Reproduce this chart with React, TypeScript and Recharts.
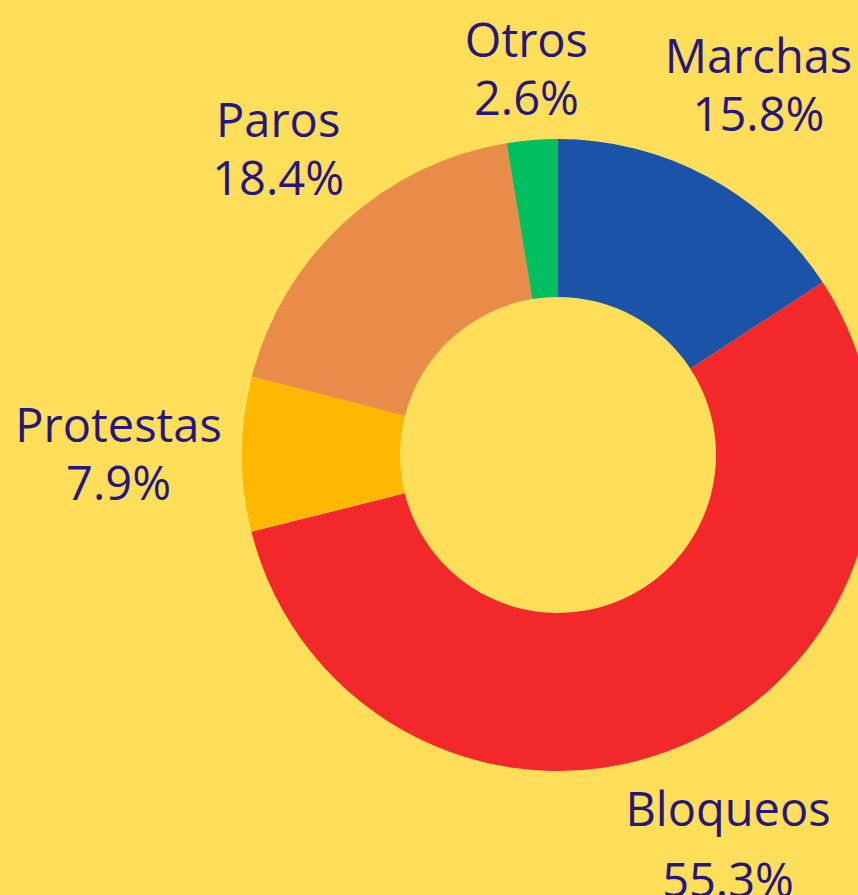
import React from "react";
import { PieChart, Pie, Cell } from "recharts";

const categories = ["Marchas", "Bloqueos", "Protestas", "Paros", "Otros"];
const values = [15.8, 55.3, 7.9, 18.4, 2.6];
const colors = ["#1B53A8", "#F2282B", "#FFB800", "#E98C4A", "#00BF60"];

const data = categories.map((name, i) => ({ name, value: values[i] }));

const TEXT = "#26167F";
const RAD = Math.PI / 180;
const FONT_SIZE = 47;
const FONT_FAMILY = "'Open Sans', sans-serif";
const CAP = FONT_SIZE * 0.72;

let ctx: CanvasRenderingContext2D | null = null;
const measure = (t: string) => {
  if (!ctx) {
    const c = document.createElement("canvas");
    ctx = c.getContext("2d");
  }
  if (!ctx) return t.length * FONT_SIZE * 0.55;
  ctx.font = `${FONT_SIZE}px ${FONT_FAMILY}`;
  return ctx.measureText(t).width;
};

const renderLabel = (props: any) => {
  const { cx, cy, midAngle, outerRadius, index } = props;
  const theta = (90 - midAngle) * RAD; // clockwise from top
  const s = Math.sin(theta);
  const c = Math.cos(theta);
  const l1 = categories[index];
  const l2 = values[index].toFixed(1) + "%";
  const hw = Math.max(measure(l1), measure(l2)) / 2;
  const gap = c < -0.5 ? 71 : 58;
  const hh = (CAP + gap) / 2;
  const d = outerRadius + 20 + Math.abs(s) * hw + Math.abs(c) * hh;
  const x = cx + d * s;
  const y = cy - d * c;
  const base1 = y - hh + CAP;
  return (
    <text
      key={`lbl-${index}`}
      textAnchor="middle"
      fill={TEXT}
      fontFamily={FONT_FAMILY}
      fontSize={FONT_SIZE}
    >
      <tspan x={x} y={base1}>{l1}</tspan>
      <tspan x={x} y={base1 + gap}>{l2}</tspan>
    </text>
  );
};

export default function App() {
  return (
    <div style={{ position: "absolute", left: 0, top: 0, width: 858, height: 895, background: "#FFDE59", overflow: "hidden" }}>
      <PieChart width={858} height={895} margin={{ top: 0, right: 0, bottom: 0, left: 0 }}>
        <Pie
          data={data}
          dataKey="value"
          nameKey="name"
          cx={558}
          cy={455}
          innerRadius={158}
          outerRadius={316}
          startAngle={90}
          endAngle={-270}
          stroke="none"
          label={renderLabel}
          labelLine={false}
          isAnimationActive={false}
        >
          {data.map((d, i) => (
            <Cell key={d.name} fill={colors[i]} />
          ))}
        </Pie>
      </PieChart>
    </div>
  );
}
